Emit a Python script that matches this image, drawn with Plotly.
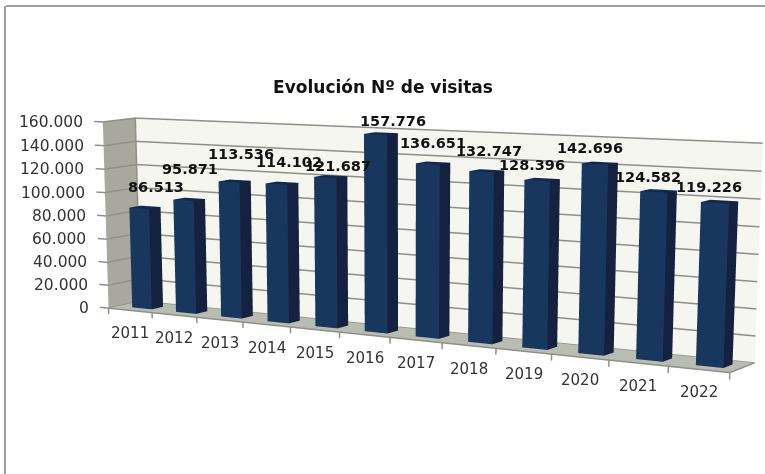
import plotly.graph_objects as go

years = ["2011","2012","2013","2014","2015","2016","2017","2018","2019","2020","2021","2022"]
visits = [86513,95871,113536,114102,121687,157776,136651,132747,128396,142696,124582,119226]
labels = ["86.513","95.871","113.536","114.102","121.687","157.776","136.651","132.747","128.396","142.696","124.582","119.226"]
z_ticks = [0,20000,40000,60000,80000,100000,120000,140000,160000]
z_tick_text = ["0","20.000","40.000","60.000","80.000","100.000","120.000","140.000","160.000"]
label_dx = [11,0,6,6,7,11,-1,2,-11,-10,-11,-11]
label_dy = [20,30,27,21,11,12,20,20,14,15,14,15]

W,H=765,474
ZM=160000.0
# camera and oblique shear of the depth / height directions (Excel-style pseudo 3D)
EYE=(0.45752,-2.50117,1.46762); CEN=(-0.13697,0.48715,-0.17371); UP=(-0.04760,0.35142,1)
AX,AY=3.41940,0.09887
a,b,c=0.51729,-0.24585,4.64414
def sx(x,y,z): return x+a*y+b*z/ZM
def sy(y,z): return y+c*z/ZM

BX,BW=.32,.45
DY0,DY1=.31,.67
vx=[];vy=[];vz=[];fi=[];fj=[];fk=[];fc=[]
FRONT,SIDE,TOP="#17375e","#14213f","#12294d"
for i,v in enumerate(visits):
    x0,x1=i+BX,i+BX+BW
    q=len(vx)
    for (xx,yy,zz) in [(x0,DY0,0),(x1,DY0,0),(x1,DY1,0),(x0,DY1,0),(x0,DY0,v),(x1,DY0,v),(x1,DY1,v),(x0,DY1,v)]:
        vx.append(sx(xx,yy,zz));vy.append(sy(yy,zz));vz.append(zz)
    for tri,cl in [((0,1,5),FRONT),((0,5,4),FRONT),((1,2,6),SIDE),((1,6,5),SIDE),((4,5,6),TOP),((4,6,7),TOP),
                  ((2,3,7),SIDE),((2,7,6),SIDE),((3,0,4),FRONT),((3,4,7),FRONT),((0,1,2),SIDE),((0,2,3),SIDE)]:
        fi.append(q+tri[0]);fj.append(q+tri[1]);fk.append(q+tri[2]);fc.append(cl)
fl=dict(ambient=1,diffuse=0,specular=0,fresnel=0)
fig=go.Figure()
def quad(pts,color):
    xs=[sx(*t) for t in pts];ys=[sy(t[1],t[2]) for t in pts];zs=[t[2] for t in pts]
    fig.add_trace(go.Mesh3d(x=xs,y=ys,z=zs,i=[0,0],j=[1,2],k=[2,3],color=color,flatshading=True,lighting=fl,hoverinfo="skip",showscale=False))
quad([(0,1,0),(12,1,0),(12,1,ZM),(0,1,ZM)],"#f5f6f0")
quad([(0,0,0),(0,1,0),(0,1,ZM),(0,0,ZM)],"#a9a89f")
quad([(0,0,0),(12,0,0),(12,1,0),(0,1,0)],"#b9bcb0")
fig.add_trace(go.Mesh3d(x=vx,y=vy,z=vz,i=fi,j=fj,k=fk,facecolor=fc,flatshading=True,lighting=fl,hoverinfo="skip",showscale=False))
LX,LY,LZ=[],[],[]
def line(*pts):
    for t in pts:
        LX.append(sx(*t));LY.append(sy(t[1],t[2]));LZ.append(t[2])
    LX.append(None);LY.append(None);LZ.append(None)
for t in z_ticks:
    line((-.2,0,t),(0.0,0,t),(0.02,.98,t),(12,.98,t))
line((0,0,0),(12,0,0),(12,1,0))
line((0.02,.98,0),(0.02,.98,ZM))
for i in range(13):
    line((i,0,0),(i,0,-5000))
fig.add_trace(go.Scatter3d(x=LX,y=LY,z=LZ,mode="lines",line=dict(color="#8f8f88",width=3),hoverinfo="skip",showlegend=False))
ann=[]
for i,yr in enumerate(years):
    ann.append(dict(x=sx(i+.5,0,0),y=sy(0,0),z=0,text=yr,showarrow=False,yshift=-23,font=dict(family="DejaVu Sans",size=15,color="#333")))
for t,s in zip(z_ticks,z_tick_text):
    ann.append(dict(x=sx(0,0,t),y=sy(0,t),z=t,text=s,showarrow=False,xanchor="right",xshift=-18,font=dict(family="DejaVu Sans",size=15.5,color="#333")))
for i,(v,s) in enumerate(zip(visits,labels)):
    ann.append(dict(x=sx(i+.55,.5,v),y=sy(.5,v),z=v,text="<b>%s</b>"%s,showarrow=False,xshift=label_dx[i],yshift=label_dy[i],font=dict(family="DejaVu Sans",size=14.5,color="#111")))
hide=dict(title="",showticklabels=False,zeroline=False,showspikes=False,showline=False,showgrid=False,showbackground=False,ticks="")
R=9.0;RY=8.0
fig.update_layout(width=W,height=H,margin=dict(l=0,r=0,t=0,b=0),paper_bgcolor="white",showlegend=False,
    title=dict(text="<b>Evolución Nº de visitas</b>",x=383/W,y=1-87/H,xanchor="center",yanchor="middle",font=dict(family="DejaVu Sans",size=17,color="#111")),
    scene=dict(domain=dict(x=[0,1],y=[0,1]),aspectmode="manual",aspectratio=dict(x=AX*2*R/12,y=AY*2*RY,z=2),
        camera=dict(eye=dict(x=EYE[0],y=EYE[1],z=EYE[2]),center=dict(x=CEN[0],y=CEN[1],z=CEN[2]),up=dict(x=UP[0],y=UP[1],z=UP[2]),projection=dict(type="perspective")),
        xaxis=dict(range=[6-R,6+R],**hide),yaxis=dict(range=[.5-RY,.5+RY],**hide),zaxis=dict(range=[80000-ZM,80000+ZM],**hide),
        annotations=ann),
    shapes=[dict(type="line",xref="paper",yref="paper",x0=6/W,x1=1,y0=1-6/H,y1=1-6/H,line=dict(color="#a0a0a0",width=2)),
            dict(type="line",xref="paper",yref="paper",x0=5/W,x1=5/W,y0=0,y1=1-6/H,line=dict(color="#a0a0a0",width=2))])
fig.write_html("out.html",post_script="document.body.style.margin='0';",config=dict(displayModeBar=False))
